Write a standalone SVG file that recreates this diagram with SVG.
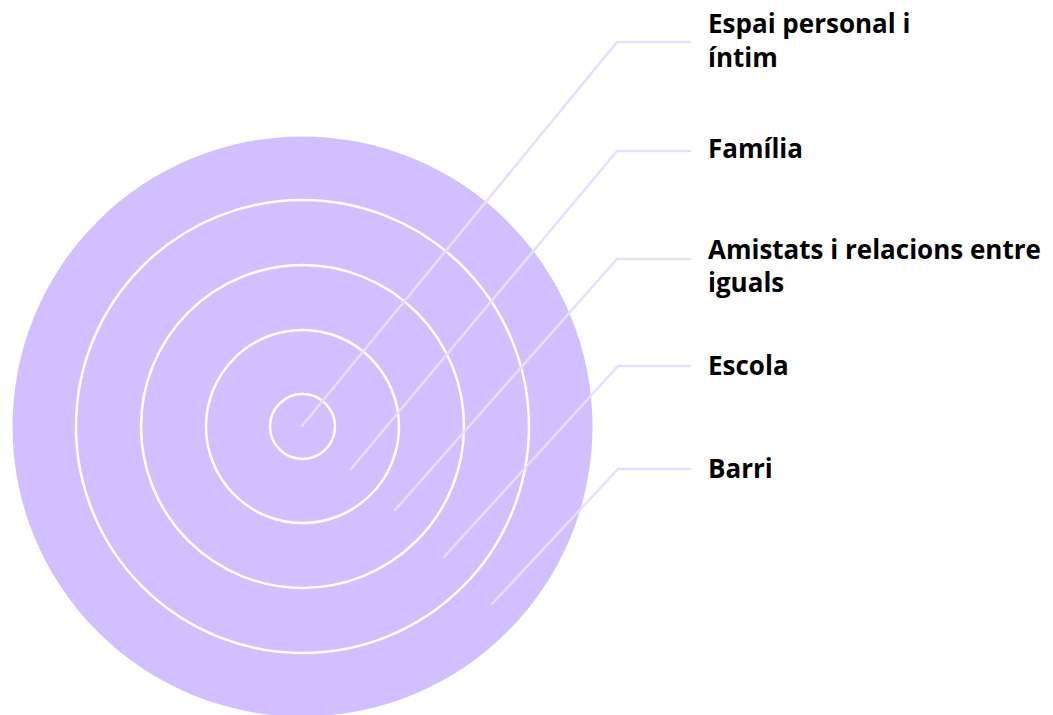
<svg xmlns="http://www.w3.org/2000/svg" width="1053" height="715" viewBox="0 0 1053 715">
<style>
.ring{fill:none;stroke:#ffffff;stroke-width:2.5}
.conn{fill:none;stroke:#e6deff;stroke-width:2.5;stroke-linecap:round;stroke-linejoin:round}
.lbl{font-family:"Open Sans","Noto Sans","Liberation Sans",sans-serif;font-weight:bold;font-size:26px;fill:#000000}
</style>
<rect width="1053" height="715" fill="#ffffff"/>
<g id="barri"><circle cx="302.5" cy="426.5" r="290" fill="#d1bfff"/></g>
<g id="escola"><circle class="ring" cx="302.5" cy="426.5" r="226.5"/></g>
<g id="amistats"><circle class="ring" cx="302.5" cy="426.5" r="161.5"/></g>
<g id="familia"><circle class="ring" cx="302.5" cy="426.5" r="96.5"/></g>
<g id="espai"><circle class="ring" cx="302.5" cy="426.5" r="32.5"/></g>
<g id="connectors">
<polyline class="conn" points="302,426 617,42 690,42"/>
<polyline class="conn" points="351,469 617,151 690,151"/>
<polyline class="conn" points="395,510 617,259 690,259"/>
<polyline class="conn" points="444,557 618,366 690,366"/>
<polyline class="conn" points="492,604 618,469 690,469"/>
</g>
<g id="labels">
<text class="lbl" x="708" y="33">Espai personal i</text>
<text class="lbl" x="708" y="67">íntim</text>
<text class="lbl" x="708" y="158">Família</text>
<text class="lbl" x="708" y="259">Amistats i relacions entre</text>
<text class="lbl" x="708" y="292">iguals</text>
<text class="lbl" x="708" y="375">Escola</text>
<text class="lbl" x="708" y="478">Barri</text>
</g>
</svg>
